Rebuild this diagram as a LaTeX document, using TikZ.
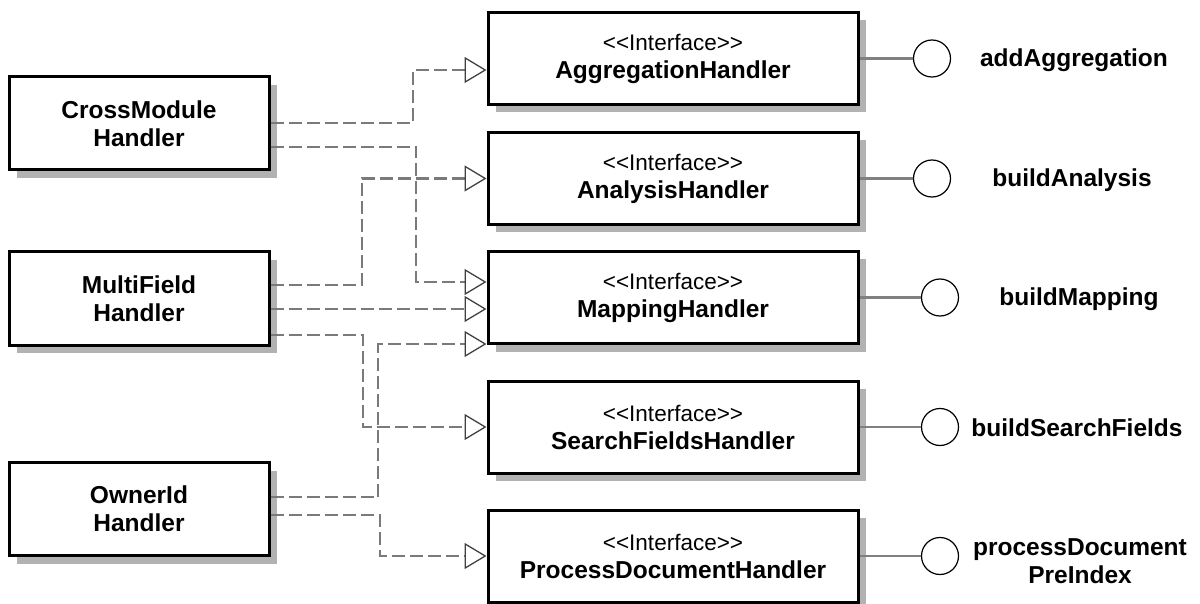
\documentclass[tikz,border=0pt]{standalone}
\usepackage{fontspec}
\newfontfamily\lsans{Liberation Sans}
\usetikzlibrary{arrows.meta,shadows}
\begin{document}
\begin{tikzpicture}[x=1pt,y=-1pt,
  box/.style={draw=black, line width=3pt, fill=white, align=center,
    drop shadow={shadow xshift=8pt, shadow yshift=-8pt, fill=black!30, opacity=1},
    font=\lsans\fontsize{24.5}{28}\selectfont\bfseries},
  lbox/.style={box, minimum width=260pt, minimum height=93pt},
  ibox/.style={box, minimum width=370pt, minimum height=92pt},
  dep/.style={draw=black!52, line width=2.8pt, dash pattern=on 13pt off 5pt,
    -{Triangle[open, length=22pt, width=26pt, line width=1.3pt, color=black!75]}},
  lolli/.style={draw=black!50, line width=2.2pt},
  ball/.style={circle, draw=black, line width=1.2pt, fill=white, minimum size=37pt, inner sep=0pt},
  lbl/.style={align=center, font=\lsans\fontsize{24.5}{28}\selectfont\bfseries}
]
\useasboundingbox (0,0) rectangle (1200,604);
\newcommand{\stereo}{{\fontsize{22.5}{27}\selectfont\mdseries <<Interface>>}}

% left classes
\node[lbox] (cm) at (139,123.5) {CrossModule\\Handler};
\node[lbox] (mf) at (139,298.5) {MultiField\\Handler};
\node[lbox] (oi) at (139,509) {OwnerId\\Handler};

% interfaces
\node[ibox] (ag) at (673,58.5) {\stereo\\AggregationHandler};
\node[ibox] (an) at (673,178.5) {\stereo\\AnalysisHandler};
\node[ibox] (mp) at (673,297.5) {\stereo\\MappingHandler};
\node[ibox] (sf) at (673,427) {\stereo\\SearchFieldsHandler};
\node[ibox] (pd) at (673,556) {\stereo\\ProcessDocumentHandler};

% lollipops
\node[ball] (b1) at (932,58.5) {};
\node[ball] (b2) at (932,178.5) {};
\node[ball] (b3) at (940,297.5) {};
\node[ball] (b4) at (940,427) {};
\node[ball] (b5) at (940,556) {};
\draw[lolli] (ag.east) -- (b1.west);
\draw[lolli] (an.east) -- (b2.west);
\draw[lolli] (mp.east) -- (b3.west);
\draw[lolli] (sf.east) -- (b4.west);
\draw[lolli] (pd.east) -- (b5.west);

\node[lbl] (l1) at (1074,60) {addAggregation};
\node[lbl] (l2) at (1072,180) {buildAnalysis};
\node[lbl] (l3) at (1079,299) {buildMapping};
\node[lbl] (l4) at (1077,428) {buildSearchFields};
\node[lbl] (l5) at (1080,561) {processDocument\\PreIndex};

% realizations
\draw[dep] (cm.east |- 0,123) -| (413,70) -- (ag.west |- 0,70);
\draw[dep] (cm.east |- 0,147) -| (416,282) -- (mp.west |- 0,282);
\draw[dep] (mf.east |- 0,285) -| (362,178.5) -- (an.west |- 0,178.5);
\draw[dep] (mf.east |- 0,309) -- (mp.west |- 0,309);
\draw[dep] (mf.east |- 0,335) -| (363,427) -- (sf.west |- 0,427);
\draw[dep] (oi.east |- 0,497) -| (378,344) -- (mp.west |- 0,344);
\draw[dep] (oi.east |- 0,515) -| (380,556) -- (pd.west |- 0,556);
\end{tikzpicture}
\end{document}
